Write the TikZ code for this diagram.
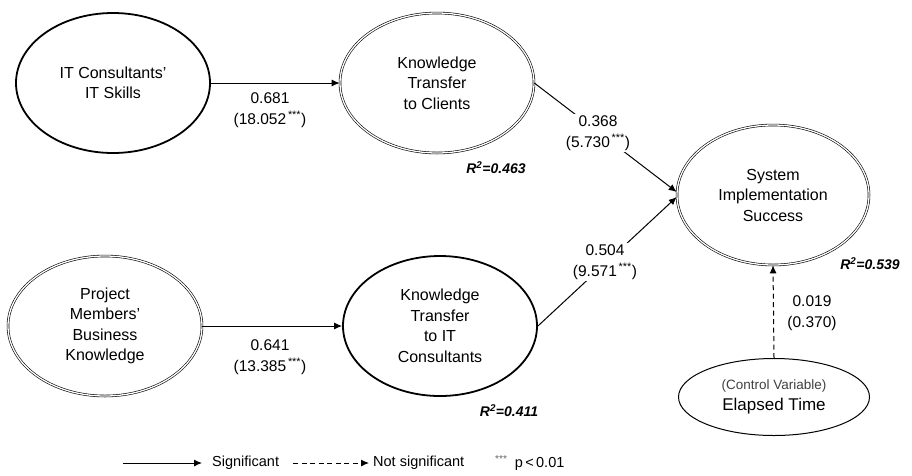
\documentclass[tikz,border=0pt]{standalone}
\usepackage{fontspec}
\setmainfont{Liberation Sans}
\usepackage{xcolor}
\usetikzlibrary{shapes.geometric,arrows.meta}

\newcommand{\pstar}{\textsuperscript{\,***}}

\tikzset{
  construct/.style={ellipse, draw, minimum width=194pt, minimum height=140pt,
    inner sep=0pt, align=center, font=\fontsize{16}{20.5}\selectfont},
  heavyline/.style={line width=1.8pt},
  twinline/.style={double, line width=0.6pt, double distance=1.3pt},
  sigarrow/.style={line width=1pt, -{Latex[length=8pt,width=7pt]}},
  nsarrow/.style={line width=1pt, dashed, dash pattern=on 5pt off 3.5pt, -{Latex[length=8pt,width=7pt]}},
  coef/.style={align=center, fill=white, inner sep=2pt, font=\fontsize{15.5}{20.5}\selectfont},
  rsq/.style={font=\fontsize{14}{16}\selectfont\bfseries\itshape},
  legendtext/.style={anchor=west, inner sep=0pt, font=\fontsize{14.5}{16}\selectfont},
}

\begin{document}
\begin{tikzpicture}[x=1pt,y=-1pt]
\useasboundingbox (0,0) rectangle (912,475);
%% constructs
\node[construct,heavyline] (skills) at (113,83) {IT Consultants'\\IT Skills};
\node[construct,twinline] (ktc) at (437,83) {Knowledge\\Transfer\\to Clients};
\node[construct,twinline] (pmbk) at (105,326) {Project\\Members'\\Business\\Knowledge};
\node[construct,heavyline] (ktit) at (440,326) {Knowledge\\Transfer\\to IT\\Consultants};
\node[construct,twinline,minimum width=192pt] (sis) at (773,195) {System\\Implementation\\Success};
\node[construct,line width=1pt,minimum width=191pt,minimum height=77pt] (elapsed) at (774,397)
  {{\fontsize{13.5}{15}\selectfont\color{black!75}(Control Variable)}\\[1pt]{\fontsize{17}{19}\selectfont Elapsed Time}};
%% paths
\draw[sigarrow] (skills) -- (ktc);
\draw[sigarrow] (pmbk) -- (ktit);
\draw[sigarrow] (ktc.east) -- ([yshift=3pt]sis.west);
\draw[sigarrow] (ktit.east) -- ([yshift=-2pt]sis.west);
\draw[nsarrow] (elapsed.north) -- (sis.south);
%% coefficients
\node[coef] (c1) at (270,110) {0.681\\(18.052\pstar)};
\node[coef] (c2) at (270,357) {0.641\\(13.385\pstar)};
\node[coef] (c3) at (598,133) {0.368\\(5.730\pstar)};
\node[coef] (c4) at (605,262) {0.504\\(9.571\pstar)};
\node[coef] (c5) at (812,313) {0.019\\(0.370)};
%% R squared
\node[rsq] (r1) at (496,168) {R\textsuperscript{2}=0.463};
\node[rsq] (r2) at (509,411) {R\textsuperscript{2}=0.411};
\node[rsq] (r3) at (870,264) {R\textsuperscript{2}=0.539};
%% legend
\coordinate (s0) at (123,463);
\coordinate (s1) at (202,463);
\coordinate (n0) at (293,463);
\coordinate (n1) at (369,463);
\draw[sigarrow] (s0) -- (s1);
\draw[nsarrow] (n0) -- (n1);
\node[legendtext] (lsig) at (212,463) {Significant};
\node[legendtext] (lns) at (373,463) {Not significant};
\node[legendtext] (lp) at (495,463) {{\color{black!60}\textsuperscript{***}}\enspace p\,<\,0.01};
\end{tikzpicture}
\end{document}
